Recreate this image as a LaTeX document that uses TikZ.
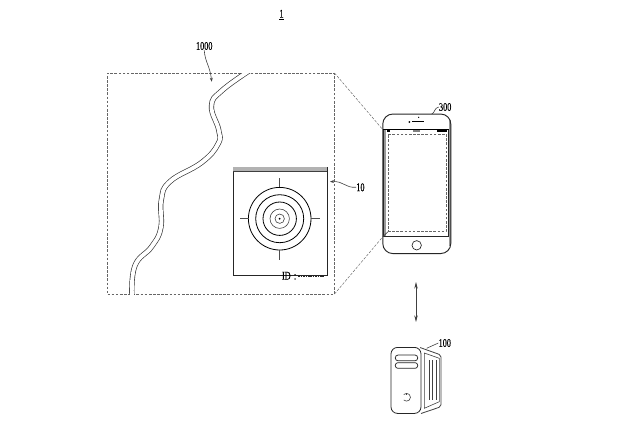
\documentclass[tikz,border=0pt]{standalone}
\usepackage{fontspec}
\newfontfamily\drawfont[FakeStretch=0.7,FakeBold=0.4]{Liberation Serif}
\usetikzlibrary{arrows.meta,calc}
\def\px{0.75pt}
\tikzset{ box/.style = { rectangle % anything placed by its centre
, draw
, inner sep = 0pt
, outer sep = 0pt
}
, lbl/.style = { inner sep = 0pt % reference numeral
, font = \drawfont\fontsize{8.8pt}{9pt}\selectfont
}
}

\begin{document}
\begin{tikzpicture}[x=\px, y=-\px, line width=0.5pt,
        dash_style/.style={draw=black!60, line width=0.35pt, dash pattern=on 2pt off 1.1pt},
        edge_style/.style={draw=black!75, line width=0.45pt},
        river_style/.style={draw=black!80, line width=0.5pt, double=white, double distance=2.9pt},
        ring_style/.style={draw=black, line width=0.6pt},
        tick_style/.style={draw=black!70, line width=0.7pt},
        slot_style/.style={box, draw=black!85, line width=0.55pt, rounded corners=2pt, minimum width=22.4*\px, minimum height=5.7*\px}]
    \useasboundingbox (0,0) rectangle (632,429);

    % enlarged area
    \node [box,dash_style,minimum width=227*\px,minimum height=221*\px](area) at (221,183.5) {};
    \begin{scope}
        \clip (area.north west) rectangle (area.south east);
        \draw [river_style] plot[smooth,tension=0.75] coordinates {(252,69) (222,90.5) (211.5,106) (218.7,130) (218,144) (201.6,162.5) (170,181.5) (161.3,200) (160.8,228) (151.6,246.7) (134.8,266) (132,298)};
    \end{scope}

    % marker card
    \node [box,draw=black!85,line width=0.6pt,minimum width=94*\px,minimum height=108*\px](card) at (280,221) {};
    \fill [black!30] (card.north west) rectangle ++(94,4.5);
    \draw [edge_style] ($(card.north west)+(0,4.5)$) -- ++(94,0);
    \coordinate (target) at (279.7,218.7);
    \foreach \r in {31.3,24,16.7}
        \draw [ring_style] (target) circle[radius=\r];
    \foreach \r in {9.7,4.7}
        \draw [edge_style] (target) circle[radius=\r];
    \fill (target) circle[radius=1];
    \draw [tick_style] (279.7,178) -- (279.7,187);
    \draw [tick_style] (279.7,250) -- (279.7,260);
    \draw [tick_style] (240,218.7) -- (249,218.7);
    \draw [tick_style] (310.7,218.7) -- (320,218.7);
    \node [lbl,anchor=west](cardid) at (281.7,275.8) {ID\hspace{2.4pt}:};
    \draw [draw=black!85,line width=0.6pt,dash pattern=on 1.2pt off 0.6pt] (298.3,276.8) -- (324.3,276.8);

    % phone
    \fill [black!40] (449,120) rectangle (451,246);
    \fill [black!40] (382.8,129.7) rectangle (385.7,236.7);
    \node [box,draw=black!85,line width=0.7pt,rounded corners=10*\px,minimum width=68*\px,minimum height=139.5*\px](phone) at (416.8,183.8) {};
    \node [box,draw=black!85,minimum width=65.7*\px,minimum height=107*\px](screen) at (415.7,183.2) {};
    \draw [line width=0.7pt] (screen.north west) -- (screen.north east);
    \node [box,dash_style,minimum width=58*\px,minimum height=97.7*\px](inner) at (417,182.85) {};
    \draw [edge_style] (screen.south west) -- (inner.south west);
    \draw [line width=0.8pt] (412.3,121.7) -- (424.3,121.7);
    \fill (409.3,122) circle[radius=1];
    \fill (418.7,117.3) circle[radius=0.7];
    \node [box,draw=black!85,circle,minimum size=9.4*\px](home) at (416.7,245.3) {};
    \fill (386.7,130.2) rectangle (390,132);
    \fill [black!50] (413.3,130.2) rectangle (420,132);
    \fill (437.3,130.2) rectangle (447.3,132);

    % zoom lines
    \draw [dash_style] (area.north east) -- (screen.north west);
    \draw [dash_style] (area.south east) -- (screen.south west);

    % server
    \coordinate (sa) at (420,347.5);
    \coordinate (sb) at (441,355);
    \coordinate (sc) at (441,406.7);
    \coordinate (sd) at (421,413.5);
    \draw [edge_style,line width=0.6pt,rounded corners=1.5pt] (sa) -- (sb) -- (sc) -- (sd);
    \draw [edge_style] (424.3,353) -- (439.3,358.3) -- (439.3,401.7) -- (424.3,408.3) -- cycle;
    \foreach \x in {429.3,432.7,436}
        \draw [edge_style] (\x,360) -- (\x,400);
    \node [box,fill=white,draw=black!85,line width=0.6pt,rounded corners=6.5*\px,minimum width=30*\px,minimum height=66*\px](server) at (406,380.4) {};
    \node [slot_style](slota) at (406.5,357.9) {};
    \node [slot_style](slotb) at (406.5,365.5) {};
    \draw [edge_style] (403.8,394.5) arc[start angle=225,end angle=495,radius=3.9];
    \draw [edge_style] (406.7,393) -- (406.7,395);

    % link
    \coordinate (linka) at (416,282);
    \coordinate (linkb) at (416,322);
    \draw [edge_style,line width=0.5pt,{Stealth[length=5pt,width=2.6pt]}-{Stealth[length=5pt,width=2.6pt]}] (linka) -- (linkb);

    % reference numerals
    \node [lbl](fig) at (281.5,15) {\underline{1}};
    \node [lbl,anchor=west](lbl1000) at (195.7,46) {1000};
    \node [lbl,anchor=west](lbl10) at (356,187.3) {10};
    \node [lbl,anchor=west](lbl300) at (438.7,107) {300};
    \node [lbl,anchor=west](lbl100) at (438.3,343) {100};
    \coordinate (tip1000) at (211.7,81.7);
    \coordinate (tip10) at (330,181.7);
    \draw [edge_style,-{Stealth[length=3pt,width=2.2pt]}] (lbl1000.south) .. controls (205,62) and (210,66) .. (tip1000);
    \draw [edge_style,-{Stealth[length=3pt,width=2.2pt]}] (lbl10.west) .. controls (345,188) and (344,181) .. (tip10);
    \draw [edge_style] (431.7,114) .. controls (435,113) and (434,108) .. (lbl300.west);
    \draw [edge_style] (426.7,348.3) -- (lbl100.west);
\end{tikzpicture}
\end{document}
